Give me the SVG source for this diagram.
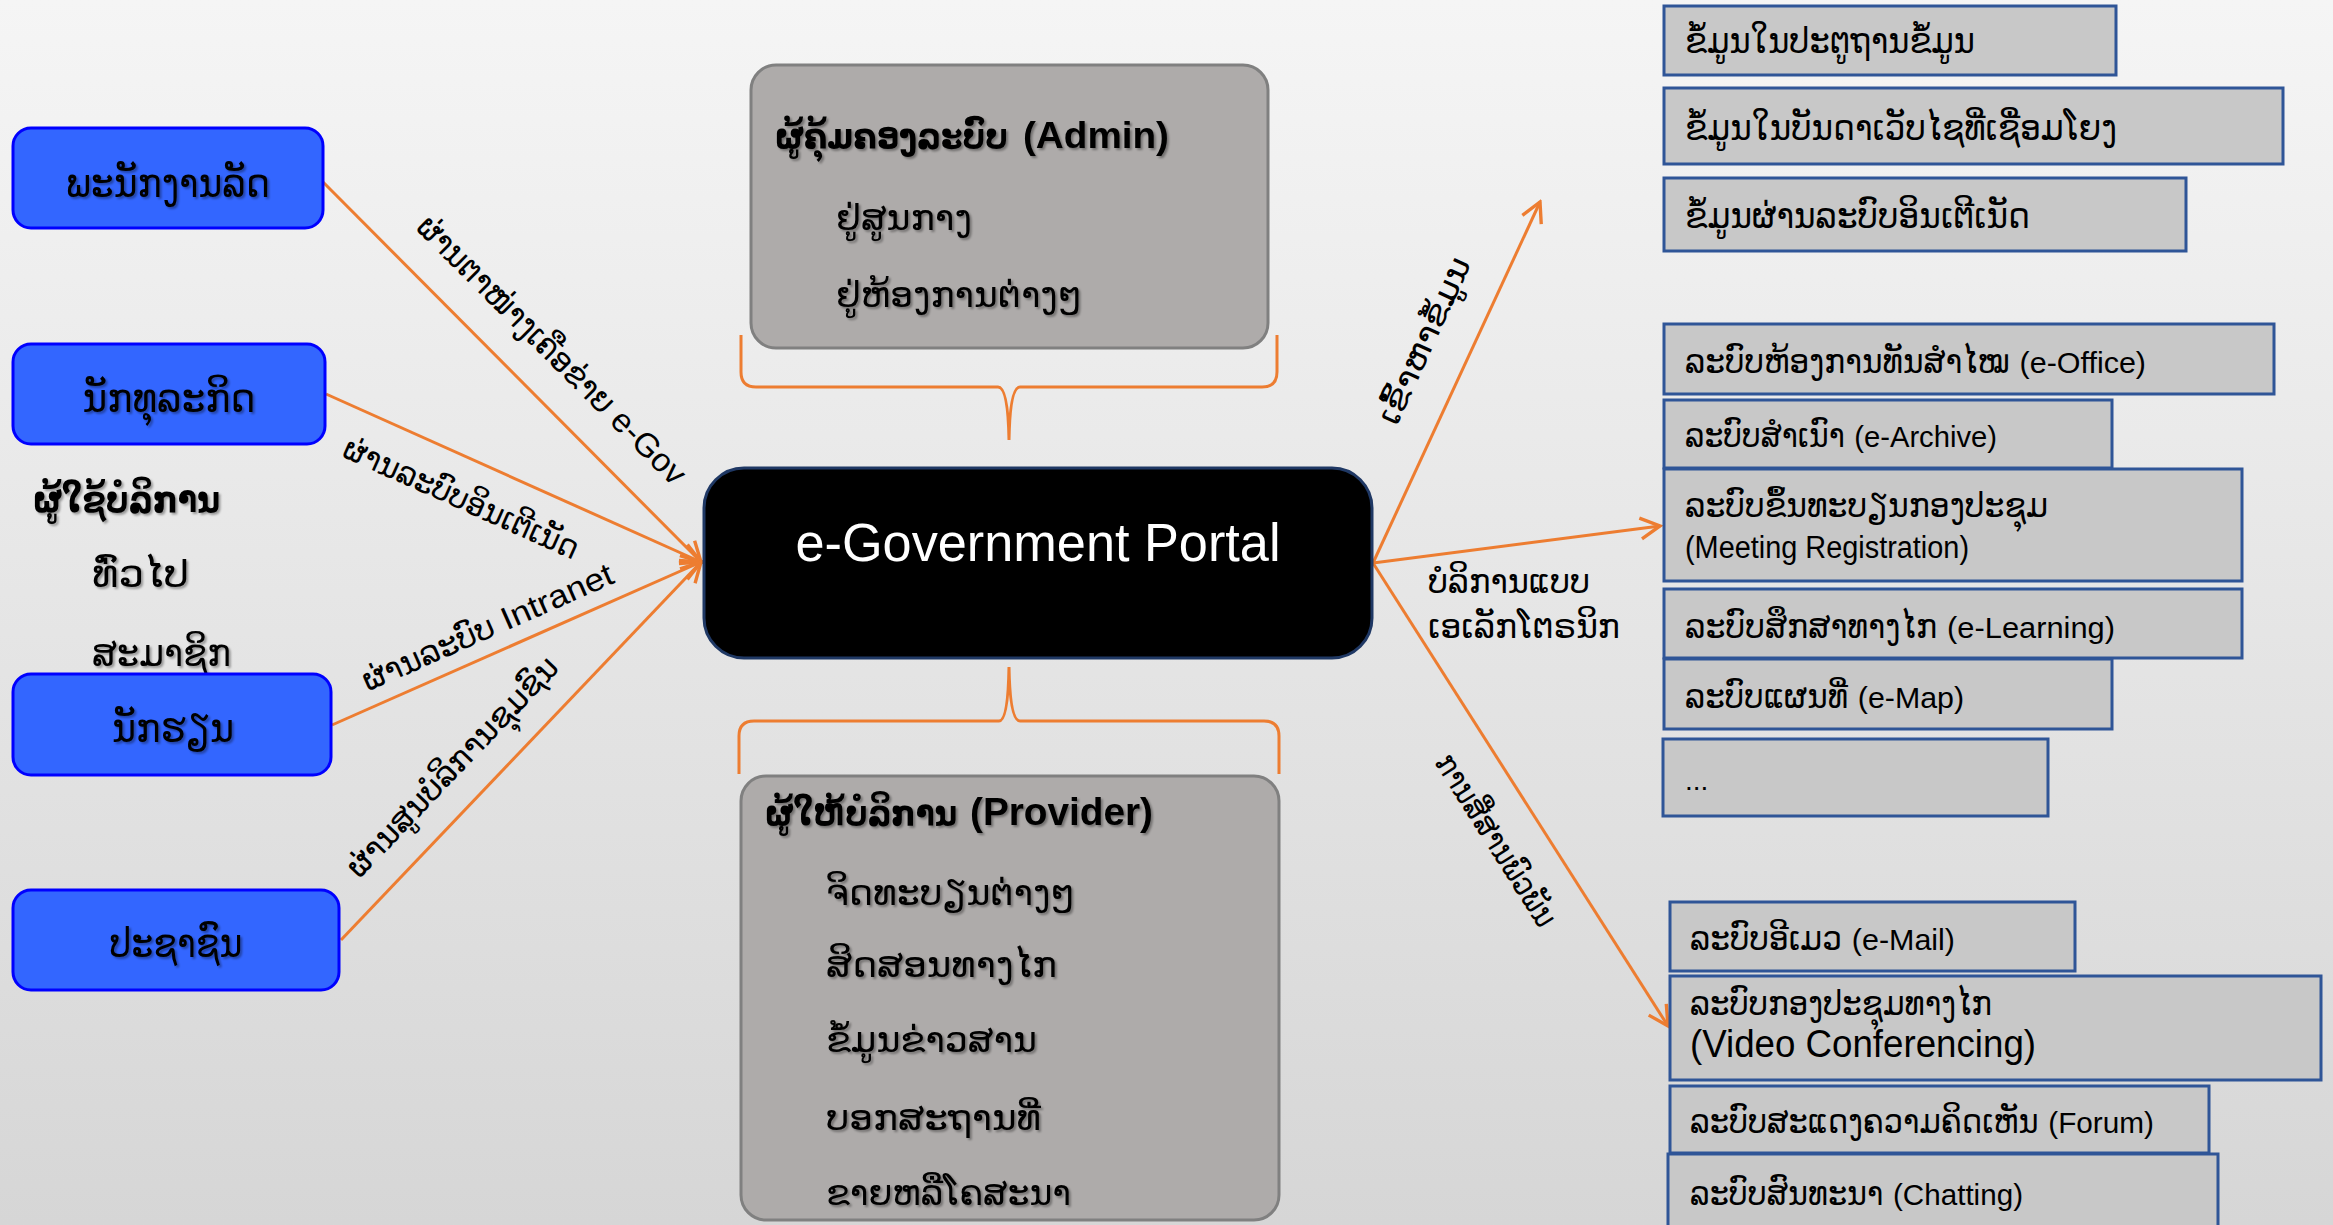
<svg xmlns="http://www.w3.org/2000/svg" width="2333" height="1225" viewBox="0 0 2333 1225">
<defs>
<linearGradient id="bg" x1="0" y1="0" x2="0" y2="1">
<stop offset="0" stop-color="#F5F5F5"/>
<stop offset="1" stop-color="#D6D6D6"/>
</linearGradient>
<filter id="sh" x="-5%" y="-20%" width="110%" height="140%">
<feDropShadow dx="2" dy="2" stdDeviation="1.2" flood-color="#000" flood-opacity="0.35"/>
</filter>
<marker id="ah" viewBox="0 0 20 20" refX="18" refY="10" markerWidth="26" markerHeight="26" orient="auto" markerUnits="userSpaceOnUse">
<path d="M3,2 L18,10 L3,18" fill="none" stroke="#ED7D31" stroke-width="2.6" stroke-linejoin="miter"/>
</marker>
<style>
.lao{font-family:"DejaVu Sans Condensed","DejaVu Sans",sans-serif;fill:#000}
.blue{fill:#3366FF;stroke:#0000FF;stroke-width:3}
.gray{fill:#AEABAA;stroke:#808080;stroke-width:3}
.rbox{fill:#C8C8C8;stroke:#2F5597;stroke-width:3}
.conn{fill:none;stroke:#ED7D31;stroke-width:3}
.nar{font-family:"Liberation Sans Narrow","Liberation Sans",sans-serif}
.lat{font-family:"Liberation Sans",Arial,sans-serif}
.shd{filter:url(#sh)}
</style>
</defs>
<rect width="2333" height="1225" fill="url(#bg)"/>

<g id="connectors">
<path class="conn" d="M323,182 L701,562" marker-end="url(#ah)"/>
<path class="conn" d="M326,394 L701,562" marker-end="url(#ah)"/>
<path class="conn" d="M332,725 L701,562" marker-end="url(#ah)"/>
<path class="conn" d="M341,940 L701,562" marker-end="url(#ah)"/>
<path class="conn" d="M1373,563 L1540,202" marker-end="url(#ah)"/>
<path class="conn" d="M1373,563 L1660,526" stroke-width="5" marker-end="url(#ah)"/>
<path class="conn" d="M1373,563 L1668,1026" marker-end="url(#ah)"/>
<path class="conn" d="M741,335 L741,372 Q741,387 756,387 L998,387 Q1008,387 1009,440 Q1010,387 1020,387 L1262,387 Q1277,387 1277,372 L1277,335"/>
<path class="conn" d="M739,774 L739,736 Q739,721 754,721 L999,721 Q1008,721 1009,667 Q1010,721 1020,721 L1264,721 Q1279,721 1279,736 L1279,774"/>
<text class="lao" font-size="33" text-anchor="middle" transform="translate(544,358) rotate(45)" textLength="365" lengthAdjust="spacingAndGlyphs">ຜ່ານຕາໜ່າງເຄືອຂ່າຍ <tspan class="lat">e-Gov</tspan></text>
<text class="lao" font-size="32" text-anchor="middle" transform="translate(457,508) rotate(24.07)" textLength="254" lengthAdjust="spacingAndGlyphs">ຜ່ານລະບົບອິນເຕີເນັດ</text>
<text class="lao" font-size="32" text-anchor="middle" transform="translate(492,637) rotate(-23.77)" textLength="271" lengthAdjust="spacingAndGlyphs">ຜ່ານລະບົບ <tspan class="lat">Intranet</tspan></text>
<text class="lao" font-size="32" text-anchor="middle" transform="translate(460,774) rotate(-46.32)" textLength="291" lengthAdjust="spacingAndGlyphs">ຜ່ານສູນບໍລິການຊຸມຊົນ</text>
<text class="lao" font-size="32" text-anchor="middle" transform="translate(1434,345) rotate(-65.43)" textLength="180" lengthAdjust="spacingAndGlyphs">ເຂົ້າຫາຂໍ້ມູນ</text>
<text class="lao" font-size="32" text-anchor="middle" transform="translate(1487,846) rotate(57.64)" textLength="198" lengthAdjust="spacingAndGlyphs">ການສື່ສານພົວພັນ</text>
<text class="lao" font-size="34" x="1428" y="593" textLength="162" lengthAdjust="spacingAndGlyphs">ບໍລິການແບບ</text>
<text class="lao" font-size="34" x="1428" y="638" textLength="192" lengthAdjust="spacingAndGlyphs">ເອເລັກໂຕຣນິກ</text>
</g>

<g id="user-gov">
<rect class="blue" x="13" y="128" width="310" height="100" rx="18"/>
<text class="lao shd" font-size="40" x="168" y="197" text-anchor="middle" textLength="204" lengthAdjust="spacingAndGlyphs">ພະນັກງານລັດ</text>
</g>
<g id="user-business">
<rect class="blue" x="13" y="344" width="312" height="100" rx="18"/>
<text class="lao shd" font-size="40" x="169" y="412" text-anchor="middle" textLength="173" lengthAdjust="spacingAndGlyphs">ນັກທຸລະກິດ</text>
</g>
<g id="user-label">
<text class="lao shd" font-size="38" font-weight="bold" x="33" y="512" textLength="187" lengthAdjust="spacingAndGlyphs">ຜູ້ໃຊ້ບໍລິການ</text>
<text class="lao shd" font-size="38" x="92" y="587" textLength="97" lengthAdjust="spacingAndGlyphs">ທົ່ວໄປ</text>
<text class="lao shd" font-size="38" x="92" y="666" textLength="139" lengthAdjust="spacingAndGlyphs">ສະມາຊິກ</text>
</g>
<g id="user-student">
<rect class="blue" x="13" y="674" width="318" height="101" rx="18"/>
<text class="lao shd" font-size="40" x="173" y="742" text-anchor="middle" textLength="122" lengthAdjust="spacingAndGlyphs">ນັກຮຽນ</text>
</g>
<g id="user-citizen">
<rect class="blue" x="13" y="890" width="326" height="100" rx="18"/>
<text class="lao shd" font-size="40" x="176" y="957" text-anchor="middle" textLength="133" lengthAdjust="spacingAndGlyphs">ປະຊາຊົນ</text>
</g>

<g id="portal">
<rect x="704" y="468" width="668" height="190" rx="40" fill="#000" stroke="#1F3864" stroke-width="3"/>
<text x="1038" y="561" text-anchor="middle" class="lat" font-size="53" fill="#fff" textLength="485" lengthAdjust="spacingAndGlyphs">e-Government Portal</text>
</g>

<g id="admin">
<rect class="gray" x="751" y="65" width="517" height="283" rx="25"/>
<text class="lao shd" font-size="36" font-weight="bold" x="775" y="148" textLength="233" lengthAdjust="spacingAndGlyphs">ຜູ້ຄຸ້ມຄອງລະບົບ</text>
<text class="lat shd" font-size="37" font-weight="bold" x="1023" y="148" textLength="146" lengthAdjust="spacingAndGlyphs">(Admin)</text>
<text class="lao shd" font-size="36" x="836" y="230" textLength="136" lengthAdjust="spacingAndGlyphs">ຢູ່ສູນກາງ</text>
<text class="lao shd" font-size="36" x="836" y="307" textLength="246" lengthAdjust="spacingAndGlyphs">ຢູ່ຫ້ອງການຕ່າງໆ</text>
</g>

<g id="provider">
<rect class="gray" x="741" y="776" width="538" height="444" rx="25"/>
<text class="lao shd" font-size="36" font-weight="bold" x="765" y="825" textLength="192" lengthAdjust="spacingAndGlyphs">ຜູ້ໃຫ້ບໍລິການ</text>
<text class="lat shd" font-size="38" font-weight="bold" x="970" y="825" textLength="183" lengthAdjust="spacingAndGlyphs">(Provider)</text>
<text class="lao shd" font-size="36" x="826" y="905" textLength="249" lengthAdjust="spacingAndGlyphs">ຈິດທະບຽນຕ່າງໆ</text>
<text class="lao shd" font-size="36" x="826" y="977" textLength="231" lengthAdjust="spacingAndGlyphs">ສິດສອນທາງໄກ</text>
<text class="lao shd" font-size="36" x="826" y="1052" textLength="211" lengthAdjust="spacingAndGlyphs">ຂໍ້ມູນຂ່າວສານ</text>
<text class="lao shd" font-size="36" x="826" y="1130" textLength="215" lengthAdjust="spacingAndGlyphs">ບອກສະຖານທີ່</text>
<text class="lao shd" font-size="36" x="826" y="1205" textLength="245" lengthAdjust="spacingAndGlyphs">ຂາຍຫລືໂຄສະນາ</text>
</g>

<g id="data-db">
<rect class="rbox" x="1664" y="6" width="452" height="69"/>
<text class="lao" font-size="35" x="1685" y="53" textLength="290" lengthAdjust="spacingAndGlyphs">ຂໍ້ມູນໃນປະຕູຖານຂໍ້ມູນ</text>
</g>
<g id="data-web">
<rect class="rbox" x="1664" y="88" width="619" height="76"/>
<text class="lao" font-size="35" x="1685" y="140" textLength="432" lengthAdjust="spacingAndGlyphs">ຂໍ້ມູນໃນບັນດາເວັບໄຊທີ່ເຊື່ອມໂຍງ</text>
</g>
<g id="data-internet">
<rect class="rbox" x="1664" y="178" width="522" height="73"/>
<text class="lao" font-size="35" x="1685" y="228" textLength="345" lengthAdjust="spacingAndGlyphs">ຂໍ້ມູນຜ່ານລະບົບອິນເຕີເນັດ</text>
</g>
<g id="e-office">
<rect class="rbox" x="1664" y="324" width="610" height="70"/>
<text class="lao" font-size="33" x="1685" y="373" textLength="461" lengthAdjust="spacingAndGlyphs">ລະບົບຫ້ອງການທັນສຳໄໝ <tspan class="nar" font-size="29">(e-Office)</tspan></text>
</g>
<g id="e-archive">
<rect class="rbox" x="1664" y="400" width="448" height="68"/>
<text class="lao" font-size="33" x="1685" y="447" textLength="312" lengthAdjust="spacingAndGlyphs">ລະບົບສຳເນົາ <tspan class="nar" font-size="29">(e-Archive)</tspan></text>
</g>
<g id="meeting-reg">
<rect class="rbox" x="1664" y="469" width="578" height="112"/>
<text class="lao" font-size="33" x="1685" y="517" textLength="363" lengthAdjust="spacingAndGlyphs">ລະບົບຂຶ້ນທະບຽນກອງປະຊຸມ</text>
<text class="nar" font-size="31" x="1685" y="558" textLength="284" lengthAdjust="spacingAndGlyphs">(Meeting Registration)</text>
</g>
<g id="e-learning">
<rect class="rbox" x="1664" y="589" width="578" height="69"/>
<text class="lao" font-size="33" x="1685" y="638" textLength="430" lengthAdjust="spacingAndGlyphs">ລະບົບສຶກສາທາງໄກ  <tspan class="nar" font-size="29">(e-Learning)</tspan></text>
</g>
<g id="e-map">
<rect class="rbox" x="1664" y="659" width="448" height="70"/>
<text class="lao" font-size="33" x="1685" y="708" textLength="279" lengthAdjust="spacingAndGlyphs">ລະບົບແຜນທີ່ <tspan class="nar" font-size="29">(e-Map)</tspan></text>
</g>
<g id="more">
<rect class="rbox" x="1663" y="739" width="385" height="77"/>
<text class="nar" font-size="28" x="1685" y="790">...</text>
</g>
<g id="e-mail">
<rect class="rbox" x="1670" y="902" width="405" height="69"/>
<text class="lao" font-size="33" x="1690" y="950" textLength="265" lengthAdjust="spacingAndGlyphs">ລະບົບອີເມວ <tspan class="nar" font-size="29">(e-Mail)</tspan></text>
</g>
<g id="video-conf">
<rect class="rbox" x="1670" y="976" width="651" height="104"/>
<text class="lao" font-size="33" x="1690" y="1015" textLength="302" lengthAdjust="spacingAndGlyphs">ລະບົບກອງປະຊຸມທາງໄກ</text>
<text class="nar" font-size="38" x="1690" y="1057" textLength="346" lengthAdjust="spacingAndGlyphs">(Video Conferencing)</text>
</g>
<g id="forum">
<rect class="rbox" x="1670" y="1086" width="539" height="67"/>
<text class="lao" font-size="33" x="1690" y="1133" textLength="464" lengthAdjust="spacingAndGlyphs">ລະບົບສະແດງຄວາມຄິດເຫັນ <tspan class="nar" font-size="29">(Forum)</tspan></text>
</g>
<g id="chatting">
<rect class="rbox" x="1668" y="1154" width="550" height="90"/>
<text class="lao" font-size="33" x="1690" y="1205" textLength="333" lengthAdjust="spacingAndGlyphs">ລະບົບສົນທະນາ <tspan class="nar" font-size="29">(Chatting)</tspan></text>
</g>
</svg>
